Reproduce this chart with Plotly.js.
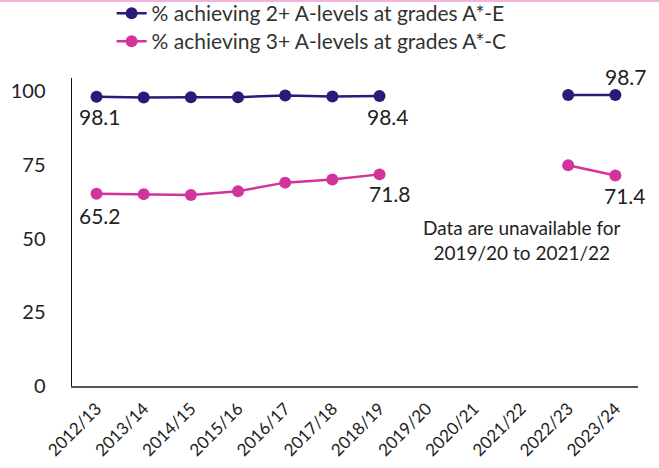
<!DOCTYPE html>
<html>
<head>
<meta charset="utf-8">
<script src="https://cdn.plot.ly/plotly-3.0.1.min.js"></script>
<style>
  html, body { margin: 0; padding: 0; background: #fff; }
  #topline { position: absolute; left: 0; top: 0; width: 659px; height: 2px; background: #f3b3da; z-index: 10; }
  #chart { width: 659px; height: 468px; }
</style>
</head>
<body>
<div id="topline"></div>
<div id="chart"></div>
<script>
const years = ["2012/13","2013/14","2014/15","2015/16","2016/17","2017/18","2018/19","2019/20","2020/21","2021/22","2022/23","2023/24"];
const twoPlusAE = [98.1, 97.9, 98.0, 98.0, 98.6, 98.2, 98.4, null, null, null, 98.7, 98.7];
const threePlusAC = [65.2, 65.1, 64.8, 66.1, 69.0, 70.1, 71.8, null, null, null, 74.9, 71.4];
const seriesNames = ["% achieving 2+ A-levels at grades A*-E", "% achieving 3+ A-levels at grades A*-C"];
const yTicks = [0, 25, 50, 75, 100];
const labelIdxBlue = [0, 6, 11];
const labelIdxPink = [0, 6, 11];
const noteText = "Data are unavailable for<br>2019/20 to 2021/22";

const blue = "#2c1a78";
const pink = "#d2339c";
const font = "Lato, 'Open Sans', sans-serif";

const traces = [
  { x: years, y: twoPlusAE, name: seriesNames[0], type: "scatter", mode: "lines+markers", legend: "legend",
    line: { color: blue, width: 2.5 }, marker: { color: blue, size: 12 }, connectgaps: false },
  { x: years, y: threePlusAC, name: seriesNames[1], type: "scatter", mode: "lines+markers", legend: "legend2",
    line: { color: pink, width: 2.5 }, marker: { color: pink, size: 12 }, connectgaps: false }
];

const labelStyle = { 0: { xs: 3, ys: -20 }, 6: { xs: 8, ys: -21 }, 11: { xs: 11, ys: 19 } };
const pinkStyle = { 0: { xs: 3, ys: -22 }, 6: { xs: 10, ys: -19 }, 11: { xs: 10, ys: -20 } };
const annotations = [];
labelIdxBlue.forEach(i => annotations.push({
  x: years[i], y: twoPlusAE[i], text: twoPlusAE[i].toFixed(1), showarrow: false,
  xanchor: "center", yanchor: "middle", xshift: labelStyle[i].xs, yshift: labelStyle[i].ys,
  font: { family: font, size: 21, color: "#222" }
}));
labelIdxPink.forEach(i => annotations.push({
  x: years[i], y: threePlusAC[i], text: threePlusAC[i].toFixed(1), showarrow: false,
  xanchor: "center", yanchor: "middle", xshift: pinkStyle[i].xs, yshift: pinkStyle[i].ys,
  font: { family: font, size: 21, color: "#222" }
}));
annotations.push({
  x: 9.02, y: 49.4, xref: "x", yref: "y", text: noteText, showarrow: false,
  xanchor: "center", yanchor: "middle", align: "center",
  font: { family: font, size: 19, color: "#222" }
});

const legendBase = {
  xref: "paper", yref: "container", x: 0.07, xanchor: "left", yanchor: "middle", orientation: "v",
  font: { family: font, size: 21, color: "#333" }, itemwidth: 30, bgcolor: "rgba(0,0,0,0)"
};

const layout = {
  width: 659, height: 468,
  margin: { l: 72, r: 21, t: 78, b: 82 },
  paper_bgcolor: "#fff", plot_bgcolor: "#fff",
  font: { family: font, color: "#222" },
  showlegend: true,
  legend: Object.assign({}, legendBase, { y: 1 - 13.5 / 468 }),
  legend2: Object.assign({}, legendBase, { y: 1 - 41.5 / 468 }),
  xaxis: {
    type: "category", range: [-0.52, 11.48], categoryorder: "array", categoryarray: years,
    showgrid: false, zeroline: false, showline: true, linecolor: "#555", linewidth: 2,
    tickangle: -45, tickfont: { family: font, size: 17, color: "#222" }, ticks: "", ticklabelstandoff: 4
  },
  yaxis: {
    range: [0, 104.5], tickvals: yTicks, ticktext: yTicks.map(String),
    showgrid: false, zeroline: false, showline: true, linecolor: "#111", linewidth: 1.5,
    tickfont: { family: font, size: 20, color: "#222" }, ticks: "", ticklabelstandoff: 21
  },
  annotations: annotations
};

Plotly.newPlot("chart", traces, layout, { displayModeBar: false, staticPlot: true });
</script>
</body>
</html>
